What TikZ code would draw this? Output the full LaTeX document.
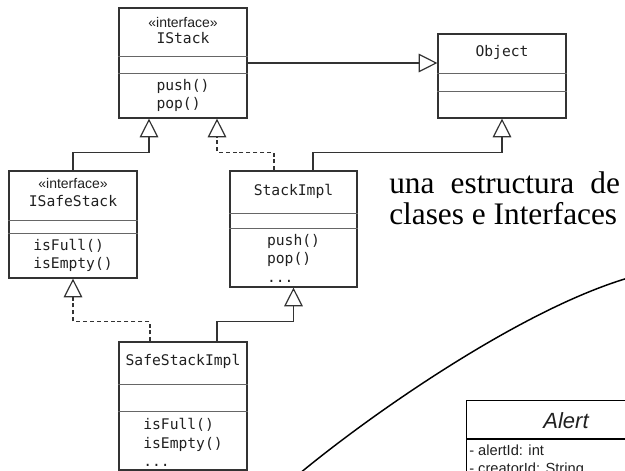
\documentclass[tikz,border=0pt]{standalone}
\usepackage{fontspec}
\setmainfont{Liberation Serif}
\setsansfont{Liberation Sans}
\setmonofont{DejaVu Sans Mono}
\usetikzlibrary{arrows.meta,calc}
\definecolor{boxgray}{HTML}{333333}
\definecolor{sepgray}{HTML}{666666}
\definecolor{linegray}{HTML}{333333}
\definecolor{textgray}{HTML}{202020}
\begin{document}
\begin{tikzpicture}[x=0.75pt,y=-0.75pt,
  umlbox/.style={draw=boxgray, line width=0.9pt, rectangle, inner sep=0pt},
  sepline/.style={draw=sepgray, line width=0.8pt},
  conn/.style={draw=linegray, line width=0.9pt},
  dconn/.style={conn, dash pattern=on 3pt off 2.2pt},
  gen/.style={-{Triangle[open,length=14pt,width=14pt,fill=white]}},
  mono/.style={font=\fontsize{11}{13}\selectfont\ttfamily, inner sep=0pt, text=textgray},
  meth/.style={font=\fontsize{11}{13.7}\selectfont\ttfamily, inner sep=0pt, text=textgray, align=left},
  stereo/.style={font=\fontsize{10.5}{12}\selectfont\sffamily, inner sep=0pt, text=textgray},
]
\useasboundingbox (0,0) rectangle (625,471);
\clip (0,0) rectangle (625,471);

% boxes
\node[umlbox, minimum width=96pt, minimum height=82.5pt] (istack) at (183,63) {};
\node[umlbox, minimum width=96pt, minimum height=63pt] (object) at (502,76) {};
\node[umlbox, minimum width=96pt, minimum height=80.25pt] (isafe) at (73,224.5) {};
\node[umlbox, minimum width=95.25pt, minimum height=87pt] (stackimpl) at (293.5,229) {};
\node[umlbox, minimum width=96pt, minimum height=96pt] (ssi) at (183,406) {};

% dividers
\draw[sepline] ($(istack.north west)+(0,49)$) -- ($(istack.north east)+(0,49)$);
\draw[sepline] ($(istack.north west)+(0,66)$) -- ($(istack.north east)+(0,66)$);
\draw[sepline] ($(object.north west)+(0,40)$) -- ($(object.north east)+(0,40)$);
\draw[sepline] ($(object.north west)+(0,58)$) -- ($(object.north east)+(0,58)$);
\draw[sepline] ($(isafe.north west)+(0,50)$) -- ($(isafe.north east)+(0,50)$);
\draw[sepline] ($(isafe.north west)+(0,63)$) -- ($(isafe.north east)+(0,63)$);
\draw[sepline] ($(stackimpl.north west)+(0,43)$) -- ($(stackimpl.north east)+(0,43)$);
\draw[sepline] ($(stackimpl.north west)+(0,58)$) -- ($(stackimpl.north east)+(0,58)$);
\draw[sepline] ($(ssi.north west)+(0,43)$) -- ($(ssi.north east)+(0,43)$);
\draw[sepline] ($(ssi.north west)+(0,70)$) -- ($(ssi.north east)+(0,70)$);

% texts
\node[stereo] (istackst) at ($(istack.north)+(0,15)$) {«interface»};
\node[mono] (istackname) at ($(istack.north)+(0,31)$) {IStack};
\node[meth] (istackm) at ($(istack.north)+(0,88)$) {push()\\pop()};
\node[mono] (objname) at ($(object.north)+(0,19)$) {Object};
\node[stereo] (isafest) at ($(isafe.north)+(0,13)$) {«interface»};
\node[mono] (isafename) at ($(isafe.north)+(0,31)$) {ISafeStack};
\node[meth] (isafem) at ($(isafe.north)+(0,85)$) {isFull()\\isEmpty()};
\node[mono] (siname) at ($(stackimpl.north)+(0,21)$) {StackImpl};
\node[meth] (sim) at ($(stackimpl.north)+(0,88)$) {push()\\pop()\\...};
\node[mono] (ssiname) at ($(ssi.north)+(0,20)$) {SafeStackImpl};
\node[meth] (ssim) at ($(ssi.north)+(0,101)$) {isFull()\\isEmpty()\\...};

% connectors
\draw[conn,gen] (istack.east) -- (istack.east -| object.west);
\draw[conn,gen] ($(stackimpl.north)+(19.5,0)$) -- ++(0,-18) -| (object.south);
\draw[conn,gen] (isafe.north) -- ++(0,-18) -| ($(istack.south)+(-34,0)$);
\draw[dconn,gen] ($(stackimpl.north)+(-19.5,0)$) -- ++(0,-18) -| ($(istack.south)+(34,0)$);
\draw[dconn,gen] ($(ssi.north)+(-33,0)$) -- ++(0,-20) -| (isafe.south);
\draw[conn,gen] ($(ssi.north)+(34,0)$) -- ++(0,-20) -| (stackimpl.south);

% side text
\node[anchor=base west, inner sep=0pt, font=\fontsize{23.5}{28}\selectfont] (t1) at (389,193) {\makebox[173pt][s]{una\hfill estructura\hfill de}};
\node[anchor=base west, inner sep=0pt, font=\fontsize{23.5}{28}\selectfont] (t2) at (389,224) {clases e Interfaces};

% curve
\draw[line width=1.1pt] (299,474) .. controls (370,415) and (520,310) .. (628,278);

% Alert box (cut by the border)
\node[draw=black, line width=0.9pt, anchor=north west, minimum width=150pt, minimum height=90pt, inner sep=0pt] (alert) at (466,400) {};
\draw[line width=0.8pt] ($(alert.north west)+(0,39)$) -- ($(alert.north east)+(0,39)$);
\node[font=\fontsize{16.5}{18}\selectfont\sffamily\itshape, inner sep=0pt, text=textgray] (alertname) at (566,421) {Alert};
\node[anchor=base west, font=\fontsize{11}{13}\selectfont\sffamily, inner sep=0pt, text=textgray] (f1) at (469,455) {- alertId: int};
\node[anchor=base west, font=\fontsize{11}{13}\selectfont\sffamily, inner sep=0pt, text=textgray] (f2) at (469,473) {- creatorId: String};
\end{tikzpicture}
\end{document}
